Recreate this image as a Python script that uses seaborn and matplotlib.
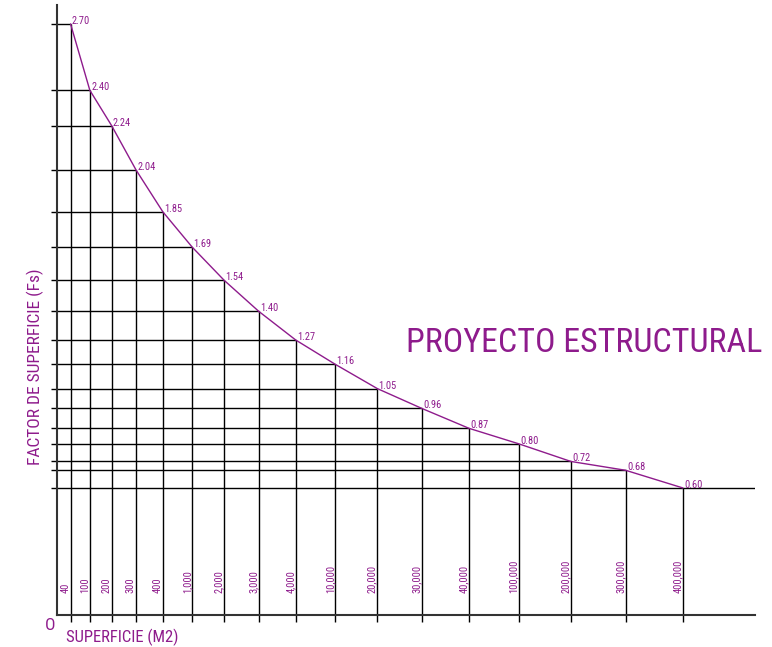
import numpy as np
import pandas as pd
import seaborn as sns
import matplotlib
matplotlib.use('Agg')
import matplotlib.pyplot as plt
from matplotlib import font_manager
from matplotlib.transforms import blended_transform_factory

areas = [40, 100, 200, 300, 400, 1000, 2000, 3000, 4000, 10000,
         20000, 30000, 40000, 100000, 200000, 300000, 400000]
factors = [2.70, 2.40, 2.24, 2.04, 1.85, 1.69, 1.54, 1.40, 1.27, 1.16,
           1.05, 0.96, 0.87, 0.80, 0.72, 0.68, 0.60]
title = 'PROYECTO ESTRUCTURAL'
xlabel = 'SUPERFICIE (M2)'
ylabel = 'FACTOR DE SUPERFICIE (Fs)'

purple = '#8e1b8c'

sns.set_theme(style='white')
names = {f.name for f in font_manager.fontManager.ttflist}
narrow = next((n for n in ['Roboto Condensed', 'Archivo Narrow', 'PT Sans Narrow',
                           'Liberation Sans Narrow']
               if n in names), 'Liberation Sans')
plt.rcParams['font.family'] = [narrow, 'DejaVu Sans']

data = pd.DataFrame({'pos': np.arange(len(areas)), 'area': areas, 'fs': factors})

# the area axis is schematic: category index, stretched toward the right
N = len(areas) - 1
b = 0.47
a = (1 - b) / N

def stretch(x):
    x = np.asarray(x, float)
    return b * x + a * x ** 2

def unstretch(y):
    y = np.asarray(y, float)
    return (-b + np.sqrt(np.maximum(b ** 2 + 4 * a * y, 0))) / (2 * a)

fig = plt.figure(figsize=(7.72, 6.47), dpi=100)
ax = fig.add_axes([57 / 772, 32 / 647, 698 / 772, 610 / 647])
ax.set_xscale('function', functions=(stretch, unstretch))
ax.set_xlim(-0.8, 17.2)
ax.set_ylim(0.025, 2.786)

x0 = ax.get_xlim()[0]
y0 = ax.get_ylim()[0]
hl_end = data['pos'].astype(float).copy()
hl_end.iloc[-1] = ax.get_xlim()[1]
ax.hlines(data['fs'], x0, hl_end, color='black', lw=1.0, zorder=1)
ax.vlines(data['pos'], y0, data['fs'], color='black', lw=1.0, zorder=1)

sns.lineplot(data=data, x='pos', y='fs', color=purple, lw=1.0, ax=ax, zorder=3)

for _, r in data.iterrows():
    ax.annotate(f"{r['fs']:.2f}", (r['pos'], r['fs']), xytext=(1, 0),
                textcoords='offset points', ha='left', va='baseline',
                fontsize=7.5, color=purple)

trans = blended_transform_factory(ax.transData, ax.transAxes)
for _, r in data.iterrows():
    ax.text(r['pos'], 0.036, f"{int(r['area']):,}", transform=trans,
            rotation=90, ha='right', va='bottom', fontsize=7.5, color=purple)

ax.set_xticks(data['pos'])
ax.set_yticks(data['fs'])
ax.tick_params(axis='x', length=5, width=1, color='black', direction='out',
               labelbottom=False, bottom=True)
ax.tick_params(axis='y', length=4, width=1, color='black', direction='out',
               labelleft=False, left=True)
ax.set_xlabel('')
ax.set_ylabel('')
for s in ['top', 'right']:
    ax.spines[s].set_visible(False)
for s in ['left', 'bottom']:
    ax.spines[s].set_color('#333333')
    ax.spines[s].set_linewidth(1.5)

fig.text(762 / 772, 1 - 352 / 647, title, ha='right', va='baseline',
         fontsize=24.5, color=purple)
fig.text(66 / 772, 1 - 642 / 647, xlabel, ha='left', va='baseline',
         fontsize=12, color=purple)
fig.text(45 / 772, 1 - 630 / 647, 'O', ha='left', va='baseline',
         fontsize=12.5, color=purple)
fig.text(35 / 772, 1 - 367 / 647, ylabel, ha='center', va='center',
         rotation=90, fontsize=12.5, color=purple)

fig.savefig('out.png', dpi=100)
